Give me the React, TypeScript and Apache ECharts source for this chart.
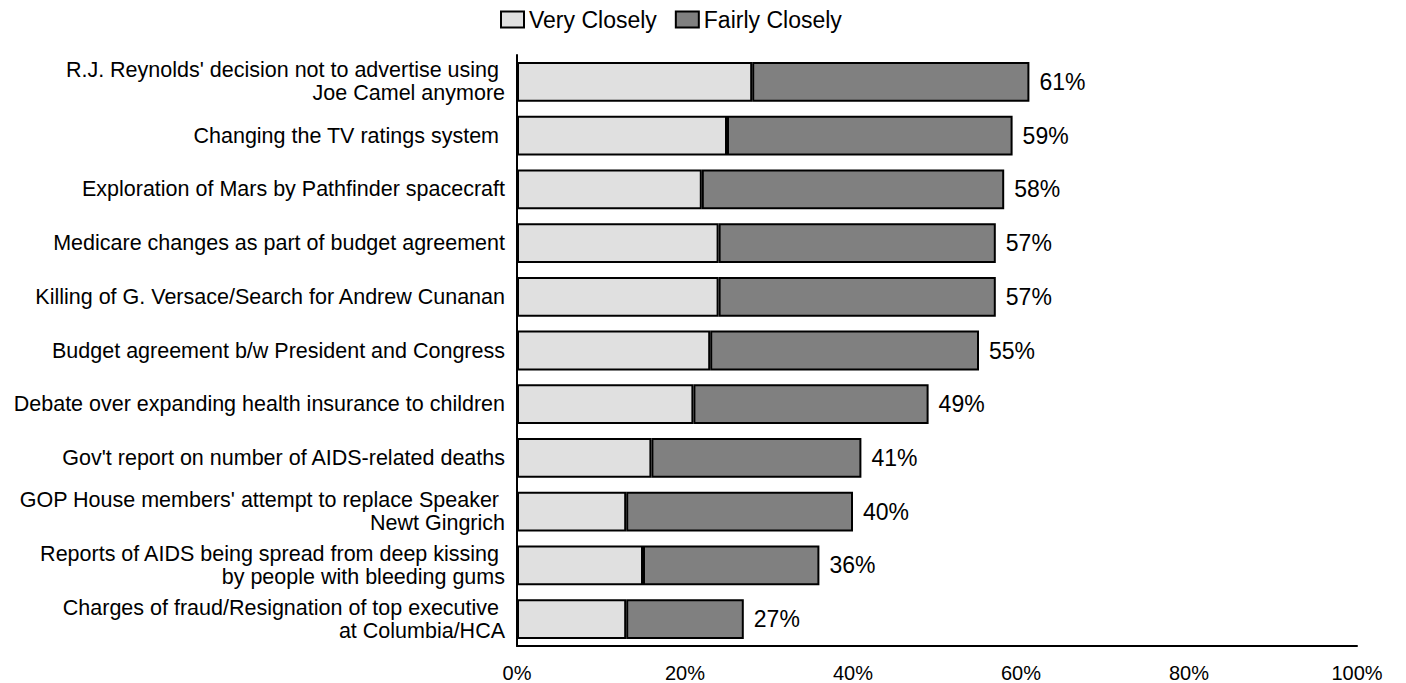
import React, { useEffect, useRef } from "react";
import * as echarts from "echarts";

const categories = [
  "R.J. Reynolds' decision not to advertise using \nJoe Camel anymore",
  "Changing the TV ratings system ",
  "Exploration of Mars by Pathfinder spacecraft",
  "Medicare changes as part of budget agreement",
  "Killing of G. Versace/Search for Andrew Cunanan",
  "Budget agreement b/w President and Congress",
  "Debate over expanding health insurance to children",
  "Gov't report on number of AIDS-related deaths",
  "GOP House members' attempt to replace Speaker \nNewt Gingrich",
  "Reports of AIDS being spread from deep kissing \nby people with bleeding gums",
  "Charges of fraud/Resignation of top executive \nat Columbia/HCA",
];
const veryClosely = [28, 25, 22, 24, 24, 23, 21, 16, 13, 15, 13];
const fairlyClosely = [33, 34, 36, 33, 33, 32, 28, 25, 27, 21, 14];
const totals = [61, 59, 58, 57, 57, 55, 49, 41, 40, 36, 27];
const xTicks = [0, 20, 40, 60, 80, 100];

const FONT = "Liberation Sans, Arial, sans-serif";

export default function App() {
  const ref = useRef<HTMLDivElement>(null);
  useEffect(() => {
    if (!ref.current) return;
    const chart = echarts.init(ref.current, undefined, { renderer: "svg" });
    chart.setOption({
      animation: false,
      backgroundColor: "#ffffff",
      legend: {
        top: -5,
        left: 487,
        itemWidth: 23,
        itemHeight: 16,
        itemGap: 18,
        textStyle: { fontFamily: FONT, fontSize: 23, color: "#000" },
        data: ["Very Closely", "Fairly Closely"],
        icon: "rect",
      },
      grid: {
        left: 509,
        right: 41,
        top: 47,
        bottom: 37,
        containLabel: false,
        outerBoundsMode: "none",
      },
      xAxis: {
        type: "value",
        min: xTicks[0],
        max: xTicks[xTicks.length - 1],
        interval: 20,
        axisLine: { show: true, lineStyle: { color: "#000", width: 2 } },
        axisTick: { show: false },
        splitLine: { show: false },
        axisLabel: {
          formatter: "{value}%",
          fontFamily: FONT,
          fontSize: 20,
          color: "#000",
          margin: 17,
        },
      },
      yAxis: {
        type: "category",
        inverse: true,
        data: categories,
        axisLine: { show: true, lineStyle: { color: "#000", width: 2 } },
        axisTick: { show: false },
        axisLabel: {
          fontFamily: FONT,
          fontSize: 21.5,
          color: "#000",
          margin: 12,
          lineHeight: 23,
          align: "right",
        },
      },
      series: [
        {
          name: "Very Closely",
          type: "bar",
          stack: "total",
          barWidth: "74%",
          data: veryClosely,
          itemStyle: { color: "#e0e0e0", borderColor: "#000", borderWidth: 2 },
        },
        {
          name: "Fairly Closely",
          type: "bar",
          stack: "total",
          barWidth: "74%",
          data: fairlyClosely,
          itemStyle: { color: "#808080", borderColor: "#000", borderWidth: 2 },
          label: {
            show: true,
            position: "right",
            distance: 10,
            fontFamily: FONT,
            fontSize: 23,
            color: "#000",
            formatter: (p: any) => totals[p.dataIndex] + "%",
          },
        },
      ],
    });
    return () => chart.dispose();
  }, []);
  return <div ref={ref} style={{ width: 1390, height: 675 }} />;
}
